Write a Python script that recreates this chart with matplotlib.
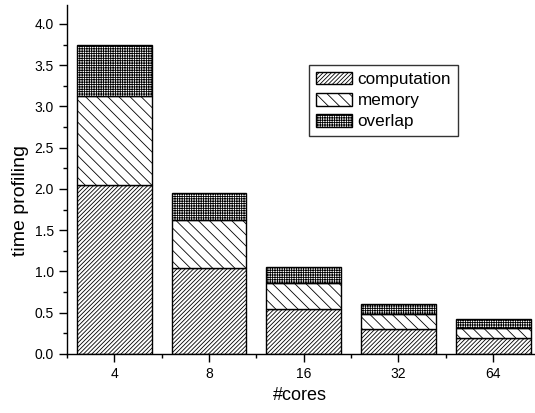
import matplotlib
matplotlib.use("Agg")
import matplotlib.pyplot as plt
import numpy as np
from matplotlib.ticker import MultipleLocator, FixedLocator

plt.rcParams['font.family'] = ['Liberation Sans', 'DejaVu Sans']
plt.rcParams['hatch.linewidth'] = 0.6

cores = ["4", "8", "16", "32", "64"]
computation = [2.05, 1.04, 0.55, 0.30, 0.19]
memory = [1.08, 0.58, 0.31, 0.19, 0.13]
overlap = [0.62, 0.33, 0.19, 0.12, 0.10]

fig = plt.figure(figsize=(5.35, 4.13), dpi=100)
ax = fig.add_axes([0.125, 0.143, 0.873, 0.845])

x = np.arange(len(cores))
w = 0.79
comp = np.array(computation)
mem = np.array(memory)
ov = np.array(overlap)
ax.bar(x, comp, w, color='white', edgecolor='black', hatch='////////', linewidth=1.0, label='computation')
ax.bar(x, mem, w, bottom=comp, color='white', edgecolor='black', hatch='\\\\\\', linewidth=1.0, label='memory')
ax.bar(x, ov, w, bottom=comp + mem, color='white', edgecolor='black', hatch='+++++++', linewidth=1.0, label='overlap')

ax.set_xlim(-0.5, 4.43)
ax.set_ylim(0, 4.23)
ax.set_xticks(x)
ax.set_xticklabels(cores)
ax.xaxis.set_minor_locator(FixedLocator(np.arange(-0.5, 4.6, 1.0)))
ax.yaxis.set_major_locator(MultipleLocator(0.5))
ax.yaxis.set_minor_locator(MultipleLocator(0.25))
ax.yaxis.set_major_formatter(matplotlib.ticker.FormatStrFormatter('%.1f'))
ax.tick_params(axis='both', which='major', direction='out', length=6, width=1, labelsize=10)
ax.tick_params(axis='both', which='minor', direction='out', length=3, width=1)
for s in ['top', 'right']:
    ax.spines[s].set_visible(False)
for s in ['left', 'bottom']:
    ax.spines[s].set_linewidth(1.0)

ax.set_xlabel('#cores', fontsize=13)
ax.set_ylabel('time profiling', fontsize=14)
ax.yaxis.label.set_y(0.44)

leg = ax.legend(loc='upper left', bbox_to_anchor=(0.518, 0.828), borderaxespad=0, fontsize=12.3,
                frameon=True, fancybox=False, edgecolor='black', handlelength=2.1,
                handleheight=0.75, labelspacing=0.35, borderpad=0.4, handletextpad=0.35)
leg.get_frame().set_linewidth(1.0)

fig.savefig('out.png', dpi=100)
